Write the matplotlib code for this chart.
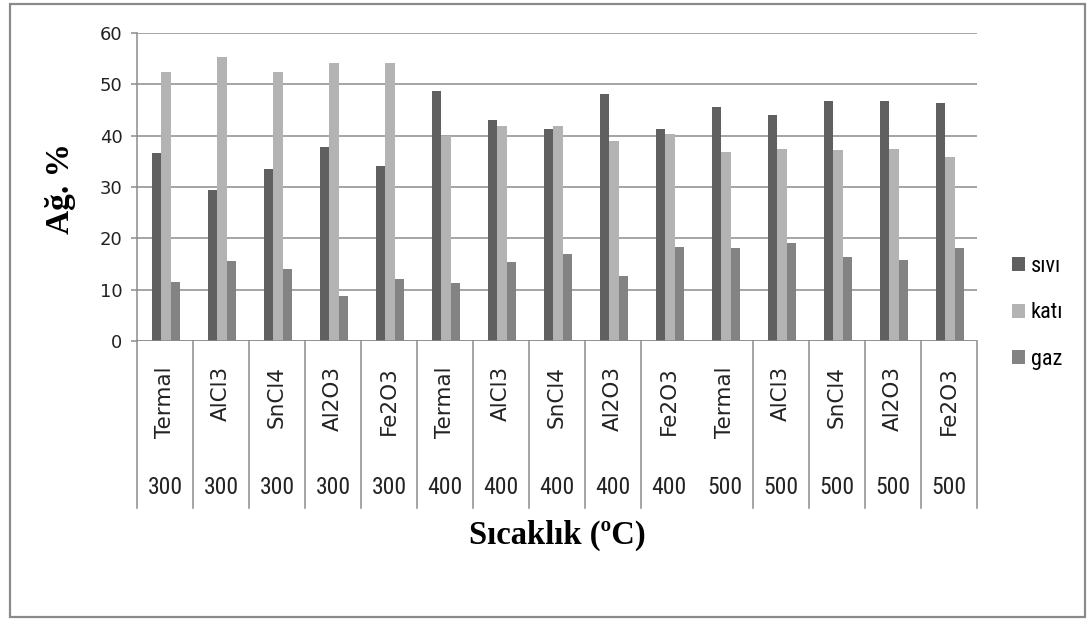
import matplotlib
matplotlib.use('Agg')
import matplotlib.pyplot as plt
import matplotlib.transforms as mtransforms
from matplotlib import font_manager
from matplotlib.patches import Rectangle
import numpy as np

# product yields (wt %) per temperature / catalyst
catalysts = ['Termal', 'AlCl3', 'SnCl4', 'Al2O3', 'Fe2O3',
             'Termal', 'AlCl3', 'SnCl4', 'Al2O3', 'Fe2O3',
             'Termal', 'AlCl3', 'SnCl4', 'Al2O3', 'Fe2O3']
temps = ['300', '300', '300', '300', '300',
         '400', '400', '400', '400', '400',
         '500', '500', '500', '500', '500']
sivi = [36.6, 29.4, 33.5, 37.7, 34.1, 48.7, 43.1, 41.3, 48.2, 41.3, 45.6, 44.1, 46.8, 46.8, 46.3]
kati = [52.4, 55.4, 52.4, 54.1, 54.1, 40.0, 41.8, 41.8, 39.0, 40.3, 36.9, 37.4, 37.2, 37.4, 35.9]
gaz = [11.5, 15.6, 14.1, 8.7, 12.0, 11.3, 15.4, 16.9, 12.6, 18.3, 18.1, 19.1, 16.3, 15.8, 18.1]
series_names = ['sıvı', 'katı', 'gaz']

colors = ['#606060', '#b3b3b3', '#838383']
grid_gray = '#8c8c8c'

# pick a narrow sans if one is installed
installed = {f.name for f in font_manager.fontManager.ttflist}
narrow = 'DejaVu Sans'
for cand in ['Liberation Sans Narrow', 'DejaVu Sans Condensed', 'Roboto Condensed']:
    if cand in installed:
        narrow = cand
        break
temp_size = 17 if narrow != 'DejaVu Sans' else 14.5
leg_size = 16 if narrow != 'DejaVu Sans' else 14.5

W, H = 1091, 619
fig = plt.figure(figsize=(W / 100, H / 100), dpi=100)
ax = fig.add_axes([137 / W, 1 - 341 / H, 840 / W, 308 / H])

x = np.arange(len(catalysts))
bw = 0.17
handles = []
for i, (vals, name) in enumerate(zip([sivi, kati, gaz], series_names)):
    b = ax.bar(x + (i - 1) * bw + 0.02, vals, width=bw, color=colors[i],
               label=name, zorder=3, linewidth=0)
    handles.append(b)

ax.set_xlim(-0.5, len(catalysts) - 0.5)
ax.set_ylim(0, 60)
ax.set_yticks(range(0, 61, 10))
ax.yaxis.grid(True, color=grid_gray, linewidth=1.1, zorder=0)
ax.set_axisbelow(True)
for s in ['top', 'right', 'bottom']:
    ax.spines[s].set_visible(False)
ax.spines['left'].set_color(grid_gray)
ax.spines['left'].set_linewidth(1.1)
ax.axhline(0, color=grid_gray, linewidth=1.1, zorder=4)
ax.tick_params(axis='y', length=4.5, width=1.1, color=grid_gray, pad=6,
               labelsize=13, labelcolor='#222222')
ax.set_xticks([])

# category separators below the axis (no line between Fe2O3-400 and Termal-500)
trans = mtransforms.blended_transform_factory(ax.transData, ax.transAxes)
bottom_sep = -(508 - 341) / 308
for k in range(len(catalysts) + 1):
    if k == 10:
        continue
    ax.plot([k - 0.5, k - 0.5], [0, bottom_sep], transform=trans,
            color=grid_gray, linewidth=1.1, clip_on=False)

# two-level category labels
for k in range(len(catalysts)):
    ax.text(k, -(366 - 341) / 308, catalysts[k], transform=trans,
            rotation=90, ha='center', va='top', fontsize=15.5,
            color='#222222', family='DejaVu Sans')
    ax.text(k, -(487 - 341) / 308, temps[k], transform=trans,
            ha='center', va='center', fontsize=temp_size, color='#222222',
            family=narrow)

fig.text(60 / W, 1 - 188 / H, 'Ağ. %', rotation=90, ha='center', va='center',
         fontsize=24, fontweight='bold', family='Liberation Serif')
fig.text(557 / W, 1 - 535 / H, 'Sıcaklık (ºC)', ha='center', va='center',
         fontsize=23.5, fontweight='bold', family='Liberation Serif')

fig.legend(handles=handles, labels=series_names, loc='center left',
           bbox_to_anchor=(1012 / W, 1 - 313 / H), frameon=False,
           handlelength=0.6, handleheight=0.6, handletextpad=0.25,
           labelspacing=1.15, borderpad=0, borderaxespad=0,
           prop={'family': narrow, 'size': leg_size})

# outer chart frame
fig.patches.append(Rectangle((10 / W, 1 - 617 / H), 1075 / W, 613 / H,
                             transform=fig.transFigure, fill=False,
                             edgecolor='#8a8a8a', linewidth=1.6))

fig.savefig('out.png', dpi=100)
